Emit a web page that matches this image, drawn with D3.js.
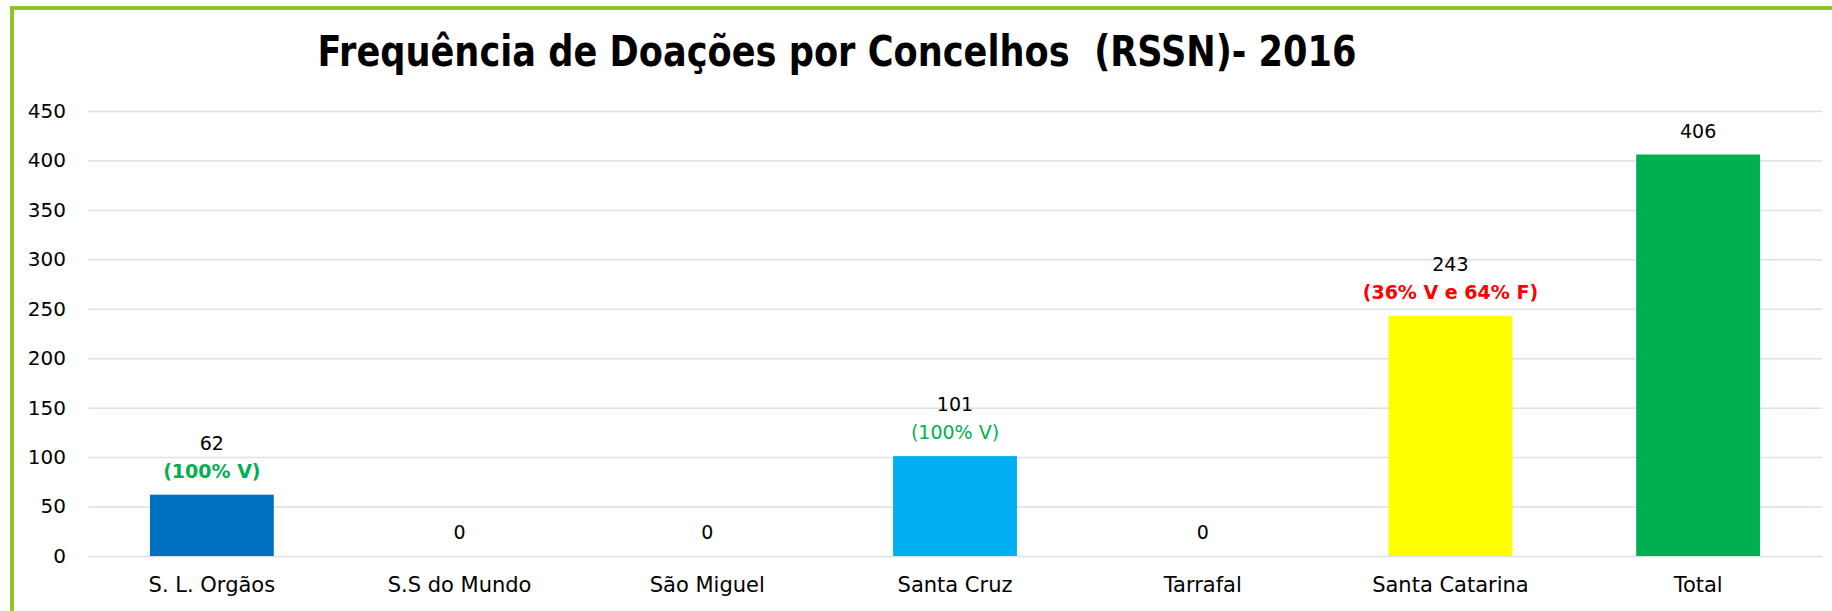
<!DOCTYPE html>
<html lang="pt">
<head>
  <meta charset="UTF-8">
  <title>Frequência de Doações por Concelhos</title>
  <style>
    body { margin: 0; background: #fff; }
    svg { display: block; font-family: "DejaVu Sans", sans-serif; }
    .grid line { stroke: #d9e2e6; stroke-width: 1.5px; }
    .grid .domain { display: none; }
    .tick text { fill: #000; }
  </style>
</head>
<body>
  <div id="chart"></div>
</body>
<script src="https://d3js.org/d3.v7.min.js"></script>
<script>
  // dados
  const concelhos = ['S. L. Orgãos', 'S.S do Mundo', 'São Miguel', 'Santa Cruz', 'Tarrafal', 'Santa Catarina', 'Total']
  const doacoes = [62, 0, 0, 101, 0, 243, 406]
  const cores = ['#0070c0', '#0070c0', '#0070c0', '#00b0f0', '#0070c0', '#ffff00', '#00b050']
  const notas = ['(100% V)', '', '', '(100% V)', '', '(36% V e 64% F)', '']
  const notaCores = ['#00b050', '', '', '#00b050', '', '#ff0000', '']
  const notaPeso = ['bold', '', '', 'normal', '', 'bold', '']
  const yTicks = [0, 50, 100, 150, 200, 250, 300, 350, 400, 450]

  const W = 1832, H = 611
  const m = { left: 88, right: 10, top: 111, bottom: 55 }
  const x0 = m.left, x1 = W - m.right, y0 = H - m.bottom, y1 = m.top

  const svg = d3.select('#chart').append('svg')
    .attr('width', W)
    .attr('height', H)

  // moldura verde
  svg.append('rect')
    .attr('x', 12).attr('y', 8)
    .attr('width', W + 20).attr('height', H + 20)
    .attr('fill', 'none')
    .attr('stroke', '#8fc224')
    .attr('stroke-width', 4)

  const xScale = d3.scaleBand()
    .domain(concelhos)
    .range([x0, x1])
    .paddingInner(0.5)
    .paddingOuter(0.25)

  const yScale = d3.scaleLinear()
    .domain([0, 450])
    .range([y0, y1])

  // grelha
  svg.append('g')
    .attr('class', 'grid')
    .attr('transform', `translate(${x0},0)`)
    .call(d3.axisLeft(yScale).tickValues(yTicks).tickSize(-(x1 - x0)).tickFormat(''))

  // eixo y
  const yAxis = svg.append('g')
    .attr('transform', `translate(${x0 - 22},0)`)
    .call(d3.axisLeft(yScale).tickValues(yTicks).tickSize(0).tickPadding(0))
  yAxis.select('.domain').remove()
  yAxis.selectAll('text').style('font-size', '20px').style('font-family', '"DejaVu Sans", sans-serif')

  // eixo x
  const xAxis = svg.append('g')
    .attr('transform', `translate(0,${y0})`)
    .call(d3.axisBottom(xScale).tickSize(0).tickPadding(21))
  xAxis.select('.domain').remove()
  xAxis.selectAll('text').style('font-size', '21px').style('font-family', '"DejaVu Sans", sans-serif')

  // barras
  svg.selectAll('.bar')
    .data(doacoes)
    .enter()
    .append('rect')
    .attr('class', 'bar')
    .attr('x', (d, i) => xScale(concelhos[i]))
    .attr('y', d => yScale(d))
    .attr('width', xScale.bandwidth())
    .attr('height', d => y0 - yScale(d))
    .attr('fill', (d, i) => d > 0 ? cores[i] : 'none')

  // rótulos de valores
  svg.selectAll('.valor')
    .data(doacoes)
    .enter()
    .append('text')
    .attr('class', 'valor')
    .attr('x', (d, i) => xScale(concelhos[i]) + xScale.bandwidth() / 2)
    .attr('y', (d, i) => yScale(d) - (notas[i] ? 45 : 17))
    .attr('text-anchor', 'middle')
    .style('font-size', '19px')
    .text(d => d)

  svg.selectAll('.nota')
    .data(notas)
    .enter()
    .append('text')
    .attr('class', 'nota')
    .attr('x', (d, i) => xScale(concelhos[i]) + xScale.bandwidth() / 2)
    .attr('y', (d, i) => yScale(doacoes[i]) - 17)
    .attr('text-anchor', 'middle')
    .attr('fill', (d, i) => notaCores[i])
    .style('font-size', '19px')
    .style('font-weight', (d, i) => notaPeso[i])
    .text(d => d)

  // título
  const titulo = svg.append('text')
    .attr('x', 837)
    .attr('y', 66)
    .attr('text-anchor', 'middle')
    .style('font-size', '42px')
    .style('font-weight', 'bold')
    .style('font-family', '"DejaVu Sans Condensed", "DejaVu Sans", sans-serif')
    .style('font-stretch', 'condensed')
    .text('Frequência de Doações por Concelhos  (RSSN)- 2016')
  titulo.attr('xml:space', 'preserve').style('white-space', 'pre')
  const tw = titulo.node().getComputedTextLength()
  if (tw > 1039) titulo.attr('textLength', 1039).attr('lengthAdjust', 'spacingAndGlyphs')
</script>
</html>
